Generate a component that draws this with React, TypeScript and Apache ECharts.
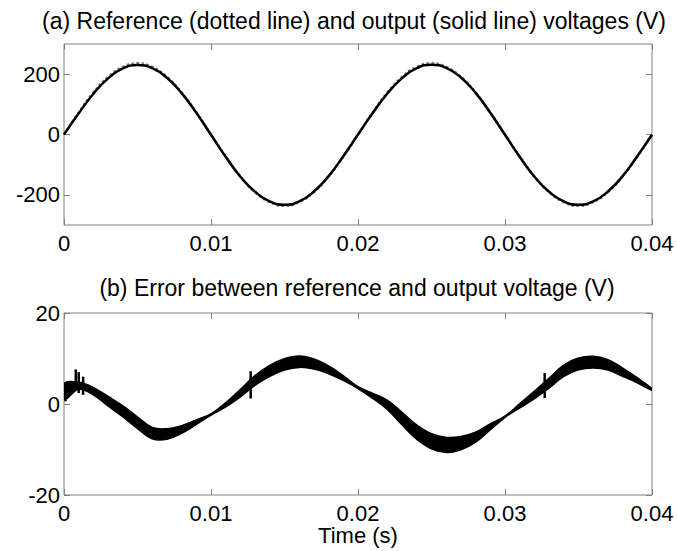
import { useEffect, useRef } from "react";
import * as echarts from "echarts";

const FONT = "'Liberation Sans', Arial, sans-serif";

const TIME = [
  0, 0.001, 0.002, 0.003, 0.004, 0.005, 0.006, 0.007, 0.008, 0.009,
  0.01, 0.011, 0.012, 0.013, 0.014, 0.015, 0.016, 0.017, 0.018, 0.019,
  0.02, 0.021, 0.022, 0.023, 0.024, 0.025, 0.026, 0.027, 0.028, 0.029,
  0.03, 0.031, 0.032, 0.033, 0.034, 0.035, 0.036, 0.037, 0.038, 0.039,
  0.04,
];

// (a) reference voltage (dotted)
const REF_V = [
  0, 73, 139, 191, 224, 236, 224, 191, 139, 73,
  0, -73, -139, -191, -224, -236, -224, -191, -139, -73,
  0, 73, 139, 191, 224, 236, 224, 191, 139, 73,
  0, -73, -139, -191, -224, -236, -224, -191, -139, -73,
  0,
];

// (a) output voltage (solid)
const OUT_V = [
  0, 70, 135, 186, 219, 230, 220, 188, 137, 72,
  -1, -74, -140, -190, -222, -233, -222, -189, -138, -72,
  0, 71, 136, 187, 220, 231, 221, 189, 138, 72,
  -1, -74, -140, -190, -222, -233, -222, -189, -138, -72,
  -1,
];

// (b) error band: lower and upper envelope
const ERR_LOW = [
  1.0, 3.3, 2.05, -0.4, -2.75, -5.3, -7.6, -7.7, -6.4, -4.45,
  -2.38, -0.6, 1.65, 4.2, 6.15, 7.5, 8.1, 7.75, 6.7, 5.25,
  3.45, 1.3, -1.15, -4.5, -7.7, -9.8, -10.6, -10.0, -8.35, -5.6,
  -2.88, -0.8, 1.25, 3.6, 6.1, 7.55, 7.95, 7.5, 6.15, 4.7,
  3.05,
];
const ERR_HIGH = [
  4.4, 4.7, 3.55, 1.6, -0.45, -2.9, -5.2, -5.5, -4.8, -3.55,
  -2.22, 0.2, 3.15, 6.2, 8.45, 9.9, 10.5, 9.85, 8.3, 6.15,
  3.75, 2.3, 0.75, -1.9, -4.7, -6.6, -7.4, -7.2, -6.25, -4.4,
  -2.72, 0.0, 2.75, 5.6, 8.5, 10.05, 10.45, 9.7, 7.85, 5.7,
  3.35,
];

// (b) switching spikes
const SPIKE_T = [0.0001, 0.0008, 0.001, 0.0013, 0.0127, 0.0327];
const SPIKE_LO = [0.6, 3.0, 2.4, 2.0, 1.2, 1.3];
const SPIKE_HI = [4.6, 7.6, 7.0, 6.0, 7.2, 6.8];

const X_TICKS = [0, 0.01, 0.02, 0.03, 0.04];
const Y_TICKS_A = [-200, 0, 200];
const Y_TICKS_B = [-20, 0, 20];

const TITLE_A = "(a) Reference (dotted line) and output (solid line) voltages (V)";
const TITLE_B = "(b) Error between reference and output voltage (V)";
const X_NAME = "Time (s)";

const AXIS_GRAY = "#808080";

export default function App() {
  const ref = useRef<HTMLDivElement>(null);

  useEffect(() => {
    const chart = echarts.init(ref.current!, null, { renderer: "svg" });

    const xAxisBase = (gridIndex: number, position: string, showLabel: boolean) => ({
      type: "value",
      gridIndex,
      position,
      min: X_TICKS[0],
      max: X_TICKS[X_TICKS.length - 1],
      interval: 0.01,
      axisLine: { show: false, onZero: false },
      axisTick: { show: true, inside: true, length: 6, lineStyle: { color: AXIS_GRAY, width: 1 } },
      axisLabel: {
        show: showLabel,
        fontSize: 22,
        fontFamily: FONT,
        color: "#000",
        margin: 7,
        formatter: (v: number) => String(+v.toFixed(2)),
      },
      splitLine: { show: false },
    });

    const yAxisBase = (
      gridIndex: number,
      position: string,
      min: number,
      max: number,
      ticks: number[],
      showLabel: boolean
    ) => ({
      type: "value",
      gridIndex,
      position,
      min,
      max,
      axisLine: { show: false, onZero: false },
      axisTick: {
        show: true,
        inside: true,
        length: 6,
        customValues: ticks,
        lineStyle: { color: AXIS_GRAY, width: 1 },
      },
      axisLabel: {
        show: showLabel,
        customValues: ticks,
        fontSize: 22,
        fontFamily: FONT,
        color: "#000",
        margin: 4,
      },
      splitLine: { show: false },
    });

    const renderBand = (params: any, api: any) => {
      if (params.dataIndex !== 0) return null;
      const cs = params.coordSys;
      const upper = TIME.map((t, i) => api.coord([t, ERR_HIGH[i]]));
      const lower = TIME.map((t, i) => api.coord([t, ERR_LOW[i]])).reverse();
      const children: any[] = [
        {
          type: "polygon",
          shape: {
            points: upper.concat(lower),
            smooth: 0.4,
            smoothConstraint: [
              [cs.x, cs.y],
              [cs.x + cs.width, cs.y + cs.height],
            ],
          },
          style: { fill: "#000", stroke: "#000", lineWidth: 2, lineJoin: "round" },
        },
      ];
      SPIKE_T.forEach((t, i) => {
        const a = api.coord([t, SPIKE_LO[i]]);
        const b = api.coord([t, SPIKE_HI[i]]);
        children.push({
          type: "line",
          shape: { x1: a[0], y1: a[1], x2: b[0], y2: b[1] },
          style: { stroke: "#000", lineWidth: 2.5 },
        });
      });
      return { type: "group", children };
    };

    const option = {
      animation: false,
      backgroundColor: "#fff",
      textStyle: { fontFamily: FONT, color: "#000" },
      grid: [
        { left: 64, top: 44, width: 588, height: 181, show: true, borderColor: AXIS_GRAY, borderWidth: 1 },
        { left: 64, top: 313, width: 588, height: 182, show: true, borderColor: AXIS_GRAY, borderWidth: 1 },
      ],
      xAxis: [
        xAxisBase(0, "bottom", true),
        xAxisBase(0, "top", false),
        {
          ...xAxisBase(1, "bottom", true),
          name: X_NAME,
          nameLocation: "middle",
          nameGap: 24,
          nameTextStyle: { fontSize: 22, fontFamily: FONT, color: "#000", verticalAlign: "top" },
        },
        xAxisBase(1, "top", false),
      ],
      yAxis: [
        yAxisBase(0, "left", -300, 300, Y_TICKS_A, true),
        yAxisBase(0, "right", -300, 300, Y_TICKS_A, false),
        yAxisBase(1, "left", -20, 20, Y_TICKS_B, true),
        yAxisBase(1, "right", -20, 20, Y_TICKS_B, false),
      ],
      graphic: [
        {
          type: "text",
          x: 354,
          y: 21,
          style: {
            text: TITLE_A,
            font: `23px ${FONT}`,
            fill: "#000",
            textAlign: "center",
            textVerticalAlign: "middle",
          },
        },
        {
          type: "text",
          x: 357,
          y: 288,
          style: {
            text: TITLE_B,
            font: `23px ${FONT}`,
            fill: "#000",
            textAlign: "center",
            textVerticalAlign: "middle",
          },
        },
      ],
      series: [
        {
          name: "Reference",
          type: "line",
          xAxisIndex: 0,
          yAxisIndex: 0,
          data: TIME.map((t, i) => [t, REF_V[i]]),
          smooth: true,
          showSymbol: false,
          symbol: "none",
          lineStyle: { color: "#7a7a7a", width: 2.5, type: "dotted" },
          z: 2,
        },
        {
          name: "Output",
          type: "line",
          xAxisIndex: 0,
          yAxisIndex: 0,
          data: TIME.map((t, i) => [t, OUT_V[i]]),
          smooth: true,
          showSymbol: false,
          symbol: "none",
          lineStyle: { color: "#000", width: 2.5 },
          z: 3,
        },
        {
          name: "Error",
          type: "custom",
          xAxisIndex: 2,
          yAxisIndex: 2,
          clip: true,
          data: TIME.map((t, i) => [t, ERR_LOW[i], ERR_HIGH[i]]),
          renderItem: renderBand,
        },
      ],
    };

    chart.setOption(option as any);
    return () => chart.dispose();
  }, []);

  return (
    <div
      ref={ref}
      style={{ position: "fixed", left: 0, top: 0, width: 677, height: 551, background: "#fff" }}
    />
  );
}
